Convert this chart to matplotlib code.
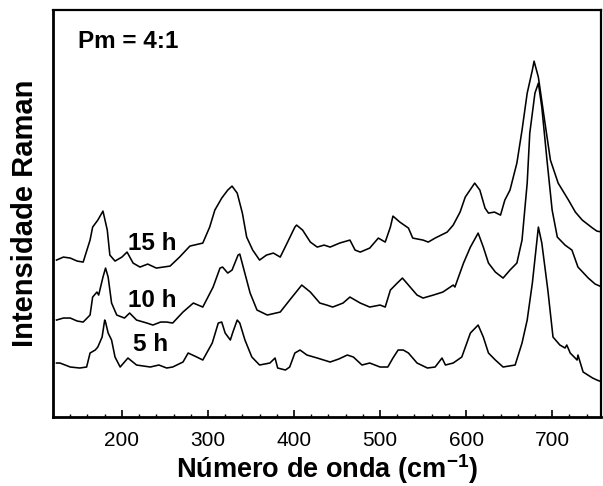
import matplotlib
matplotlib.use("Agg")
import matplotlib.pyplot as plt
from matplotlib.ticker import MultipleLocator

plt.rcParams['font.family'] = ['Liberation Sans', 'DejaVu Sans']
plt.rcParams['mathtext.fontset'] = 'custom'
plt.rcParams['mathtext.rm'] = 'Liberation Sans'
plt.rcParams['mathtext.bf'] = 'Liberation Sans:bold'

# Raman spectra (wavenumber cm-1, intensity a.u.)
wn_15h = [124, 132, 140, 148, 155, 163, 166, 172, 178, 183, 186, 192, 200, 206, 213, 221, 230, 240,
          256, 267, 279, 294, 302, 308, 316, 323, 328, 334, 340, 345, 352, 360, 368, 376, 384, 392,
          401, 403, 410, 419, 427, 435, 442, 453, 465, 471, 477, 488, 498, 506, 512, 515, 523, 533,
          538, 550, 556, 564, 578, 585, 593, 599, 610, 616, 622, 626, 633, 640, 645, 651, 659, 665,
          671, 677, 679, 684, 690, 698, 707, 719, 727, 735, 747, 752, 758]
int_15h = [157, 160, 159, 156, 155, 177, 190, 197, 206, 187, 162, 156, 160, 165, 154, 150, 153, 149,
           151, 160, 171, 174, 190, 207, 219, 227, 231, 224, 204, 180, 167, 157, 162, 164, 160, 174,
           190, 192, 187, 175, 170, 172, 170, 174, 177, 167, 165, 169, 179, 175, 190, 201, 195, 189,
           179, 177, 175, 179, 185, 192, 205, 220, 234, 227, 209, 204, 205, 202, 217, 227, 254, 287,
           324, 347, 356, 340, 304, 257, 234, 217, 205, 197, 189, 186, 185]

wn_10h = [124, 132, 140, 148, 155, 163, 166, 171, 173, 178, 181, 184, 188, 194, 203, 209, 217, 229,
          236, 245, 252, 259, 271, 283, 294, 306, 314, 317, 323, 328, 335, 337, 341, 349, 357, 369,
          384, 395, 409, 419, 430, 438, 445, 457, 465, 477, 488, 500, 506, 512, 520, 526, 531, 543,
          550, 562, 573, 585, 587, 597, 605, 614, 620, 626, 634, 643, 651, 659, 665, 671, 674, 680,
          684, 688, 694, 700, 706, 715, 723, 730, 742, 750, 758]
int_10h = [97, 99, 99, 96, 95, 102, 120, 125, 122, 140, 149, 140, 114, 102, 99, 104, 97, 94,
           92, 95, 95, 94, 105, 114, 110, 130, 149, 150, 144, 147, 162, 163, 150, 124, 107, 102,
           105, 117, 132, 125, 114, 112, 110, 114, 120, 114, 110, 112, 110, 127, 134, 139, 134, 122,
           119, 122, 125, 132, 130, 154, 170, 184, 170, 154, 145, 139, 147, 154, 177, 234, 284, 324,
           334, 310, 257, 207, 180, 172, 167, 150, 139, 133, 130]

wn_5h = [124, 128, 134, 140, 151, 159, 163, 169, 172, 177, 180, 181, 184, 188, 192, 198, 207, 217,
         225, 233, 243, 252, 259, 271, 277, 287, 294, 305, 312, 316, 320, 326, 329, 334, 337, 343,
         351, 360, 372, 378, 381, 390, 395, 401, 407, 415, 427, 442, 452, 462, 469, 479, 488, 500,
         509, 515, 521, 527, 533, 543, 555, 564, 572, 576, 585, 595, 605, 614, 620, 626, 634, 643,
         657, 665, 671, 677, 684, 688, 695, 701, 709, 715, 717, 721, 729, 730, 736, 747, 752, 758]
int_5h = [54, 54, 52, 50, 49, 50, 64, 67, 70, 80, 97, 95, 84, 77, 60, 50, 59, 52,
          51, 50, 52, 49, 50, 55, 64, 60, 57, 74, 94, 95, 84, 77, 85, 97, 94, 77,
          60, 52, 54, 59, 49, 47, 50, 64, 67, 62, 59, 55, 58, 62, 60, 52, 54, 50,
          50, 59, 67, 67, 64, 54, 49, 50, 59, 52, 54, 60, 84, 92, 80, 64, 57, 50,
          52, 74, 97, 134, 190, 174, 127, 80, 72, 69, 72, 64, 57, 62, 45, 39, 37, 35]

series = [(wn_15h, int_15h), (wn_10h, int_10h), (wn_5h, int_5h)]
labels = ["15 h", "10 h", "5 h"]
label_x = [207, 207, 213]
label_y = [174, 117, 73]

x_major = [200, 300, 400, 500, 600, 700]

fig = plt.figure(figsize=(6.03, 4.86), dpi=100)
ax = fig.add_axes([0.088, 0.142, 0.909, 0.837])

for wn, inten in series:
    ax.plot(wn, inten, color='black', lw=1.15)

for txt, tx, ty in zip(labels, label_x, label_y):
    ax.text(tx, ty, txt, fontsize=17.5, fontweight='bold', ha='left', va='center')

ax.text(0.046, 0.924, "Pm = 4:1", transform=ax.transAxes, fontsize=17.5,
        fontweight='bold', ha='left', va='center')

ax.set_xlim(120, 757)
ax.set_ylim(0, 407)
ax.set_xticks(x_major)
ax.xaxis.set_minor_locator(MultipleLocator(20))
ax.set_yticks([])
ax.tick_params(axis='x', which='major', direction='in', length=5, width=1.2,
               labelsize=15, pad=10, top=False)
ax.tick_params(axis='x', which='minor', direction='in', length=2.5, width=1.0, top=False)

for side in ['left', 'bottom']:
    ax.spines[side].set_linewidth(2.0)
for side in ['top', 'right']:
    ax.spines[side].set_linewidth(1.6)

ax.set_xlabel("Número de onda (cm$^{\\mathbf{-1}}$)", fontsize=19.5, fontweight='bold', labelpad=2)
ax.set_ylabel("Intensidade Raman", fontsize=21, fontweight='bold', labelpad=10)

fig.savefig("out.png", dpi=100)
